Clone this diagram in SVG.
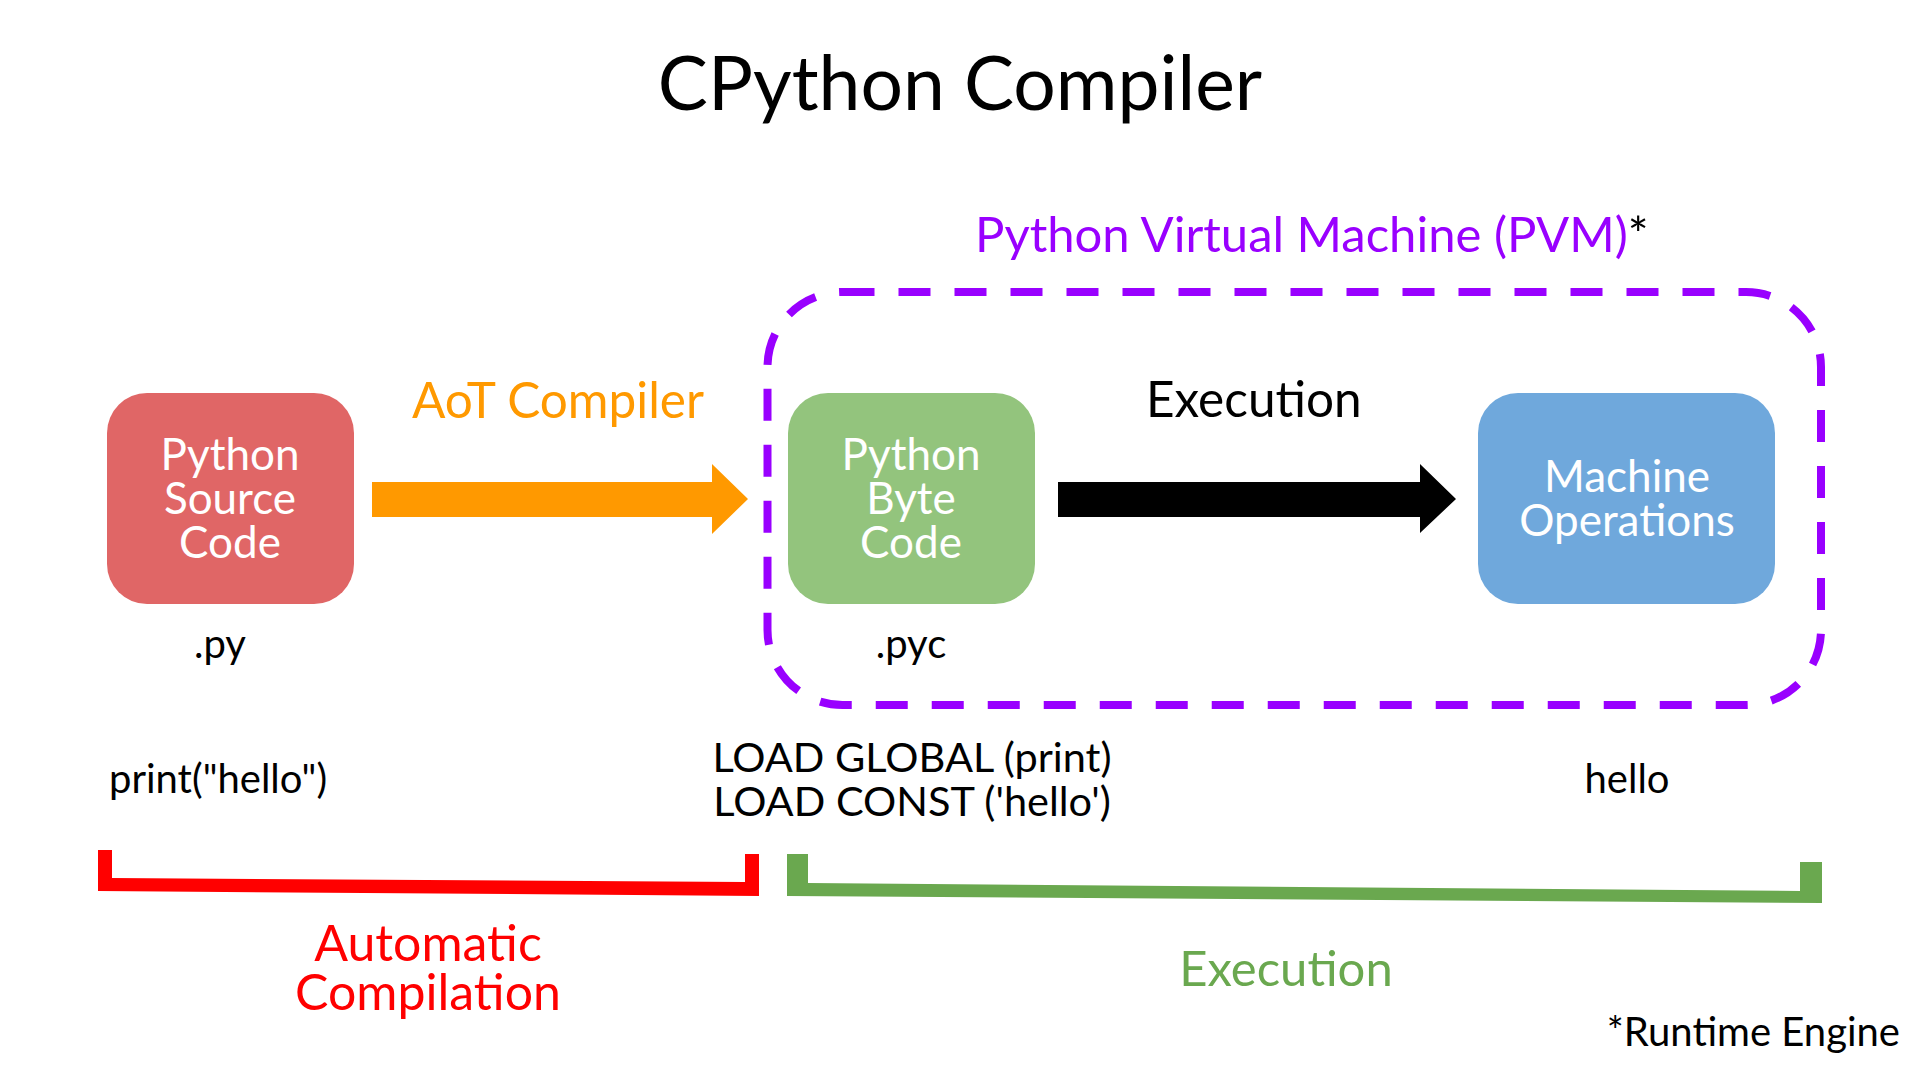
<svg xmlns="http://www.w3.org/2000/svg" width="1918" height="1080" viewBox="0 0 1918 1080">
<style>
text{font-family:Lato,"Open Sans","Liberation Sans",sans-serif;}
.box-label{fill:#ffffff;font-size:44px;text-anchor:middle;}
.plain{fill:#000000;font-size:40px;}
.mid{text-anchor:middle;}
</style>
<rect width="1918" height="1080" fill="#ffffff"/>
<text x="960" y="110" class="mid" style="font-size:75px" fill="#000">CPython Compiler</text>
<g id="pvm">
<rect x="767.5" y="292" width="1053.5" height="413" rx="75" ry="75" fill="none" stroke="#9900FF" stroke-width="8" stroke-dasharray="32 24"/>
<text x="975" y="252" style="font-size:49px" fill="#9900FF">Python Virtual Machine (PVM)<tspan fill="#000">*</tspan></text>
</g>
<g id="connectors">
<polygon points="372,482 712,482 712,464 748,499 712,534 712,517 372,517" fill="#FF9900"/>
<text x="412" y="418" style="font-size:49.5px" fill="#FF9900">AoT Compiler</text>
<polygon points="1058,482 1420,482 1420,464 1456,499 1420,533 1420,517 1058,517" fill="#000"/>
<text x="1146" y="417" style="font-size:49.5px" fill="#000">Execution</text>
</g>
<g id="source">
<rect x="107" y="393" width="247" height="211" rx="40" ry="40" fill="#E06666"/>
<text class="box-label" x="230" y="470">Python<tspan x="230" dy="44">Source</tspan><tspan x="230" dy="44">Code</tspan></text>
<text class="plain mid" x="220" y="658">.py</text>
<text class="plain" x="109" y="793">print("hello")</text>
</g>
<g id="bytecode">
<rect x="788" y="393" width="247" height="211" rx="40" ry="40" fill="#93C47D"/>
<text class="box-label" x="911" y="470">Python<tspan x="911" dy="44">Byte</tspan><tspan x="911" dy="44">Code</tspan></text>
<text class="plain mid" x="911" y="658">.pyc</text>
<text class="plain mid" style="font-size:41.5px" x="912" y="772">LOAD GLOBAL (print)<tspan x="912" dy="44">LOAD CONST ('hello')</tspan></text>
</g>
<g id="machine">
<rect x="1478" y="393" width="297" height="211" rx="40" ry="40" fill="#6FA8DC"/>
<text class="box-label" x="1627" y="492">Machine<tspan x="1627" dy="44">Operations</tspan></text>
<text class="plain mid" x="1627" y="793">hello</text>
</g>
<g id="auto-compilation">
<polygon points="98,850 112,850 112,878 745,882 745,854 759,854 759,896 98,891" fill="#FF0000"/>
<text x="428" y="961" class="mid" style="font-size:50px" fill="#FF0000">Automatic<tspan x="428" dy="49">Compilation</tspan></text>
</g>
<g id="execution">
<polygon points="787,854 808,854 808,883 1800,891 1800,862 1822,862 1822,903 787,896" fill="#6AA84F"/>
<text x="1286" y="986" class="mid" style="font-size:49px" fill="#6AA84F">Execution</text>
</g>
<text x="1900" y="1046" class="plain" style="text-anchor:end">*Runtime Engine</text>
</svg>
